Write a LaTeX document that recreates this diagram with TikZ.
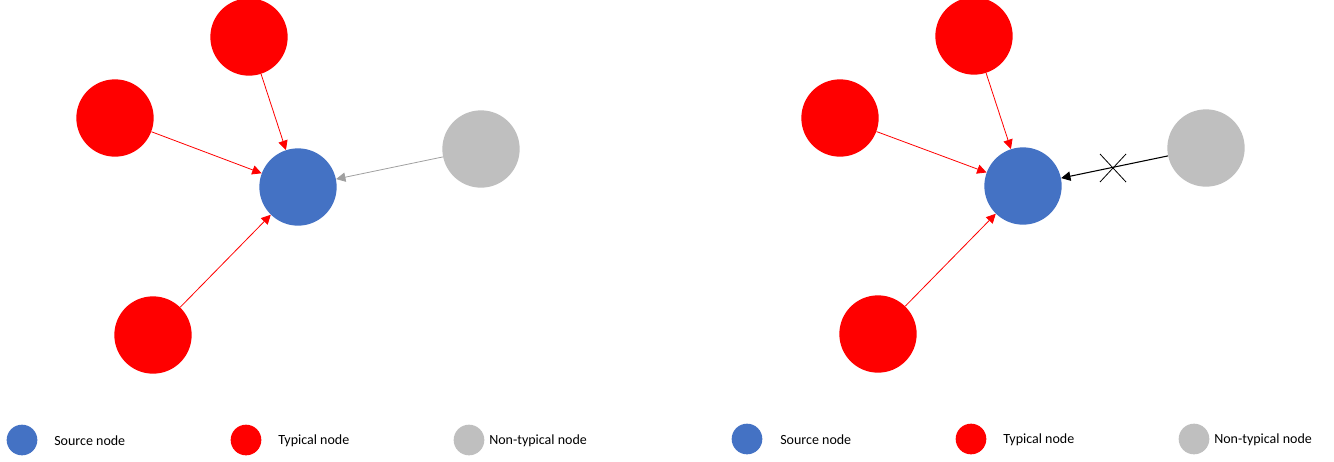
\documentclass[tikz,border=0pt]{standalone}
\usepackage{fontspec}
\setmainfont{Carlito}
\usetikzlibrary{arrows.meta}
\definecolor{srcblue}{RGB}{68,114,196}
\definecolor{typred}{RGB}{255,0,0}
\definecolor{nongray}{RGB}{191,191,191}

\begin{document}
\begin{tikzpicture}[x=0.75pt,y=-0.75pt,
	big/.style={circle, minimum size=58pt, inner sep=0pt},
	small/.style={circle, minimum size=23pt, inner sep=0pt},
	lbl/.style={anchor=west, inner sep=0pt, font=\fontsize{10.5}{12}\selectfont},
	tip/.style={semithick, -{Triangle[length=7pt,width=7pt]}}]
	\useasboundingbox (0,0) rectangle (1334,461);
	% left panel
	\path (298,187) node(s1)[big, fill=srcblue]{}
	(249,37) node(t1)[big, fill=typred]{}
	(115,118) node(l1)[big, fill=typred]{}
	(153,335) node(b1)[big, fill=typred]{}
	(481,149) node(g1)[big, fill=nongray]{};
	\draw [tip, typred] (t1)--(s1);
	\draw [tip, typred] (l1)--(s1);
	\draw [tip, typred] (b1)--(s1);
	\draw [tip, color={rgb,255:red,160;green,160;blue,160}] (g1)--(s1);
	% right panel
	\path (1023,186) node(s2)[big, fill=srcblue]{}
	(974,36) node(t2)[big, fill=typred]{}
	(840,118) node(l2)[big, fill=typred]{}
	(878,334) node(b2)[big, fill=typred]{}
	(1206,148) node(g2)[big, fill=nongray]{};
	\draw [tip, typred] (t2)--(s2);
	\draw [tip, typred] (l2)--(s2);
	\draw [tip, typred] (b2)--(s2);
	\draw [tip, black, thick] (g2)--(s2);
	\coordinate (x2) at (1113,168);
	\draw [semithick] (x2) ++(-13,-14) -- ++(26,28);
	\draw [semithick] (x2) ++(-13,14) -- ++(26,-28);
	% legends
	\path (22,440) node(k1)[small, fill=srcblue]{}
	(246,440) node(k2)[small, fill=typred]{}
	(469,440) node(k3)[small, fill=nongray]{}
	(747,439) node(k4)[small, fill=srcblue]{}
	(971,439) node(k5)[small, fill=typred]{}
	(1194,439) node(k6)[small, fill=nongray]{};
	\node[lbl] (n1) at (54,441) {Source node};
	\node[lbl] (n2) at (278,441) {Typical node};
	\node[lbl] (n3) at (489,441) {Non-typical node};
	\node[lbl] (n4) at (780,440) {Source node};
	\node[lbl] (n5) at (1003,440) {Typical node};
	\node[lbl] (n6) at (1214,440) {Non-typical node};
\end{tikzpicture}
\end{document}
